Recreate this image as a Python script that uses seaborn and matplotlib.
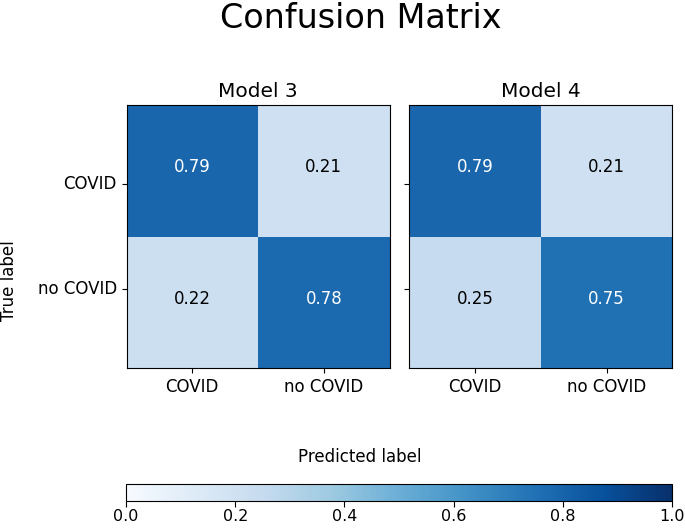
import numpy as np
import matplotlib
matplotlib.use("Agg")
import matplotlib.pyplot as plt
import seaborn as sns

labels = ["COVID", "no COVID"]
model3 = [[0.79, 0.21], [0.22, 0.78]]
model4 = [[0.79, 0.21], [0.25, 0.75]]
titles = ["Model 3", "Model 4"]
cbar_ticks = [0.0, 0.2, 0.4, 0.6, 0.8, 1.0]

plt.rcParams['font.family'] = ['DejaVu Sans']

fig = plt.figure(figsize=(6.85, 5.29), dpi=100)
ax1 = fig.add_axes([0.1847, 0.3038, 0.384, 0.497])
ax2 = fig.add_axes([0.5975, 0.3038, 0.384, 0.497])
cax = fig.add_axes([0.184, 0.053, 0.797, 0.032])

for ax, data, t in zip([ax1, ax2], [model3, model4], titles):
    sns.heatmap(np.array(data), ax=ax, cmap="Blues", vmin=0, vmax=1, annot=True, fmt=".2f",
                cbar=False, xticklabels=labels, yticklabels=labels,
                annot_kws={"fontsize": 12})
    for txt in ax.texts:
        if txt.get_color() != "w":
            txt.set_color("black")
        x, y = txt.get_position()
        txt.set_position((x, y - 0.03))
    for s in ax.spines.values():
        s.set_visible(True)
        s.set_linewidth(0.8)
        s.set_color("black")
    ax.set_title(t, fontsize=14.5)
    ax.tick_params(axis="both", labelsize=12, length=3.5, width=0.8, color="black",
                   labelcolor="black")
    ax.set_yticks([0.6, 1.4])
    ax.set_yticklabels(labels, rotation=0)
    ax.set_xticklabels(labels, rotation=0)

ax2.set_yticklabels([])

mappable = ax1.collections[0]
cb = fig.colorbar(mappable, cax=cax, orientation="horizontal")
cb.set_ticks(cbar_ticks)
cb.ax.tick_params(labelsize=11.5, length=4.5, width=0.8, pad=1.5)
cb.outline.set_linewidth(0.8)
cb.outline.set_edgecolor("black")

fig.text(9 / 685, 1 - 281 / 529, "True label", ha="center", va="center",
         rotation=90, fontsize=12)
fig.text(360 / 685, 1 - 457 / 529, "Predicted label", ha="center", va="center", fontsize=12)
fig.text(361 / 685, 1 - 18 / 529, "Confusion Matrix", ha="center", va="center", fontsize=24)

fig.savefig("out.png", dpi=100)
